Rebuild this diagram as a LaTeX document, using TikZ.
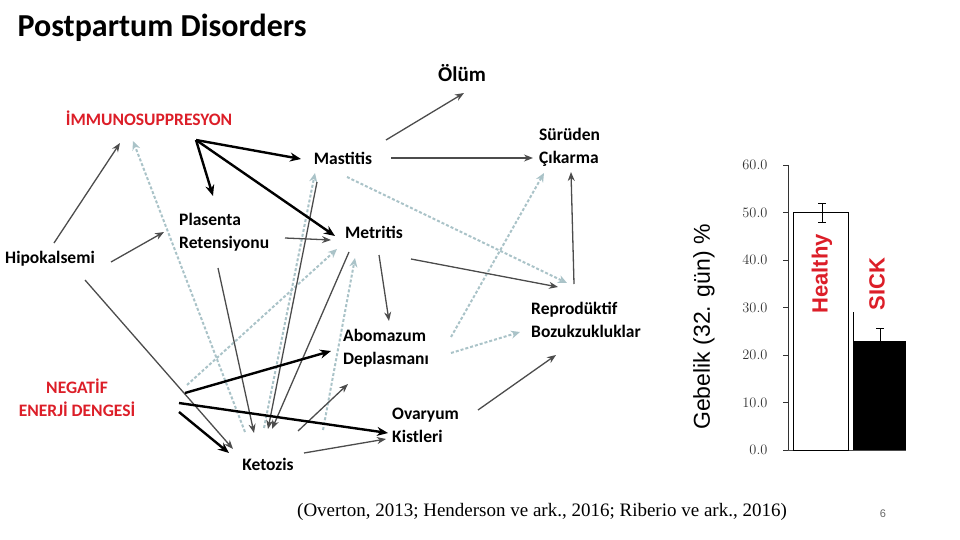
\documentclass[tikz,border=0pt]{standalone}
\usepackage{fontspec}
\setmainfont{Carlito}
\newfontfamily\serifF{Liberation Serif}
\newfontfamily\sansF{Liberation Sans}
\usetikzlibrary{arrows.meta}
\definecolor{redt}{RGB}{220,30,40}
\definecolor{dashb}{RGB}{170,195,200}
\begin{document}
\begin{tikzpicture}[x=1pt,y=-1pt,
  lbl/.style={font=\bfseries\fontsize{17.5}{23}\selectfont,align=left,inner sep=1pt},
  rlbl/.style={lbl,text=redt,align=center},
  gr/.style={draw=black!70,line width=1.3pt,-{Stealth[length=9pt,width=7pt]}},
  bk/.style={draw=black,line width=2.4pt,-{Stealth[length=11pt,width=9pt]}},
  db/.style={draw=dashb,line width=2pt,dashed,dash pattern=on 3pt off 2pt,-{Stealth[length=9pt,width=8pt]}},
  tick/.style={font=\serifF\fontsize{15}{16}\selectfont,anchor=east,text=black!80}]
\useasboundingbox (0,0) rectangle (960,540);
\node[anchor=west,font=\bfseries\fontsize{32}{34}\selectfont] (title) at (14,28) {Postpartum Disorders};
% nodes
\node[lbl,font=\bfseries\fontsize{21}{23}\selectfont] (olum) at (462,73) {Ölüm};
\node[rlbl] (imm) at (149,118) {İMMUNOSUPPRESYON};
\node[lbl,anchor=west] (sur) at (538,147) {Sürüden\\Çıkarma};
\node[lbl] (mas) at (343,158) {Mastitis};
\node[lbl,anchor=west] (pla) at (178,232) {Plasenta\\Retensiyonu};
\node[lbl] (met) at (374,232) {Metritis};
\node[lbl] (hip) at (50,259) {Hipokalsemi};
\node[lbl,anchor=west] (rep) at (530,320) {Reprodüktif\\Bozukzukluklar};
\node[lbl,anchor=west] (abo) at (342,348) {Abomazum\\Deplasmanı};
\node[rlbl] (ned) at (77,398) {NEGATİF\\ENERJİ DENGESİ};
\node[lbl,anchor=west] (ova) at (391,425) {Ovaryum\\Kistleri};
\node[lbl] (ket) at (268,464) {Ketozis};
% coordinates for connector ends
\coordinate (a1) at (54,243); \coordinate (a2) at (120,143);
\coordinate (b1) at (111,262); \coordinate (b2) at (164,232);
\coordinate (c1) at (85,280); \coordinate (c2) at (233,449);
\coordinate (d1) at (386,140); \coordinate (d2) at (464,93);
\coordinate (e1) at (391,158); \coordinate (e2) at (533,158);
\coordinate (f1) at (285,238); \coordinate (f2) at (331,240);
\coordinate (g1) at (218,268); \coordinate (g2) at (254,433);
\coordinate (h1) at (379,255); \coordinate (h2) at (389,321);
\coordinate (i1) at (411,259); \coordinate (i2) at (558,287);
\coordinate (j1) at (574,284); \coordinate (j2) at (571,172);
\coordinate (k1) at (478,410); \coordinate (k2) at (556,355);
\coordinate (l1) at (298,431); \coordinate (l2) at (348,384);
\coordinate (m1) at (304,453); \coordinate (m2) at (386,439);
\coordinate (n1) at (317,182); \coordinate (n2) at (268,429);
\coordinate (o1) at (349,252); \coordinate (o2) at (272,429);
\coordinate (p0) at (196,140);
\coordinate (p1) at (301,159); \coordinate (p2) at (213,196); \coordinate (p3) at (335,236);
\coordinate (q1) at (185,393); \coordinate (q2) at (331,351);
\coordinate (r1) at (179,403); \coordinate (r2) at (388,433);
\coordinate (s1) at (179,412); \coordinate (s2) at (229,453);
\coordinate (t1) at (245,432); \coordinate (t2) at (133,141);
\coordinate (u1) at (187,385); \coordinate (u2) at (337,249);
\coordinate (v1) at (264,428); \coordinate (v2) at (315,173);
\coordinate (w1) at (323,430); \coordinate (w2) at (355,258);
\coordinate (x1) at (347,177); \coordinate (x2) at (567,283);
\coordinate (y1) at (451,337); \coordinate (y2) at (544,173);
\coordinate (z1) at (451,353); \coordinate (z2) at (520,332);
% dashed
\foreach \u/\v in {t1/t2,u1/u2,v1/v2,w1/w2,x1/x2,y1/y2,z1/z2} \draw[db] (\u) -- (\v);
% gray
\foreach \u/\v in {a1/a2,b1/b2,c1/c2,d1/d2,e1/e2,f1/f2,g1/g2,h1/h2,i1/i2,j1/j2,k1/k2,l1/l2,m1/m2,n1/n2,o1/o2} \draw[gr] (\u) -- (\v);
% black
\foreach \v in {p1,p2,p3} \draw[bk] (p0) -- (\v);
\foreach \u/\v in {q1/q2,r1/r2,s1/s2} \draw[bk] (\u) -- (\v);
% chart
\draw[black!80,line width=0.8pt] (788,165) coordinate (ax1) -- (788,450) coordinate (ax0);
\foreach \v in {0,10,20,30,40,50,60}{
  \draw[black!80] (783,450-4.75*\v) -- (788,450-4.75*\v);
  \node[tick] at (771,450-4.75*\v) {\pgfmathprintnumber[fixed,fixed zerofill,precision=1]{\v}};}
\draw[black!70,line width=0.8pt] (788,450) -- (906,450);
\draw[black,line width=0.8pt] (793,450) rectangle (848,212.5);
\draw[black] (848,212.5) -- (848,306);
\draw[black] (853,450) -- (853,312);
\fill[black] (853,450) rectangle (906,341);
\draw[black] (822,212.5) -- (822,203) (818,203) -- (826,203) (822,212.5) -- (822,222) (818,222) -- (826,222);
\draw[black] (880,341) -- (880,328) (876,328) -- (884,328);
\node[rotate=90,font=\sansF\bfseries\fontsize{22}{24}\selectfont,text=redt] (hl) at (822,274) {Healthy};
\node[rotate=90,font=\sansF\bfseries\fontsize{22}{24}\selectfont,text=redt] (sk) at (877,284) {SICK};
\node[rotate=90,font=\sansF\fontsize{23}{26}\selectfont] (yl) at (704,327) {Gebelik (32. gün) \%};
\node[font=\serifF\fontsize{19}{22}\selectfont] (cit) at (542,512) {(Overton, 2013; Henderson ve ark., 2016; Riberio ve ark., 2016)};
\node[font=\sansF\fontsize{11}{12}\selectfont,text=black!60] (pg) at (883,514) {6};
\end{tikzpicture}
\end{document}
